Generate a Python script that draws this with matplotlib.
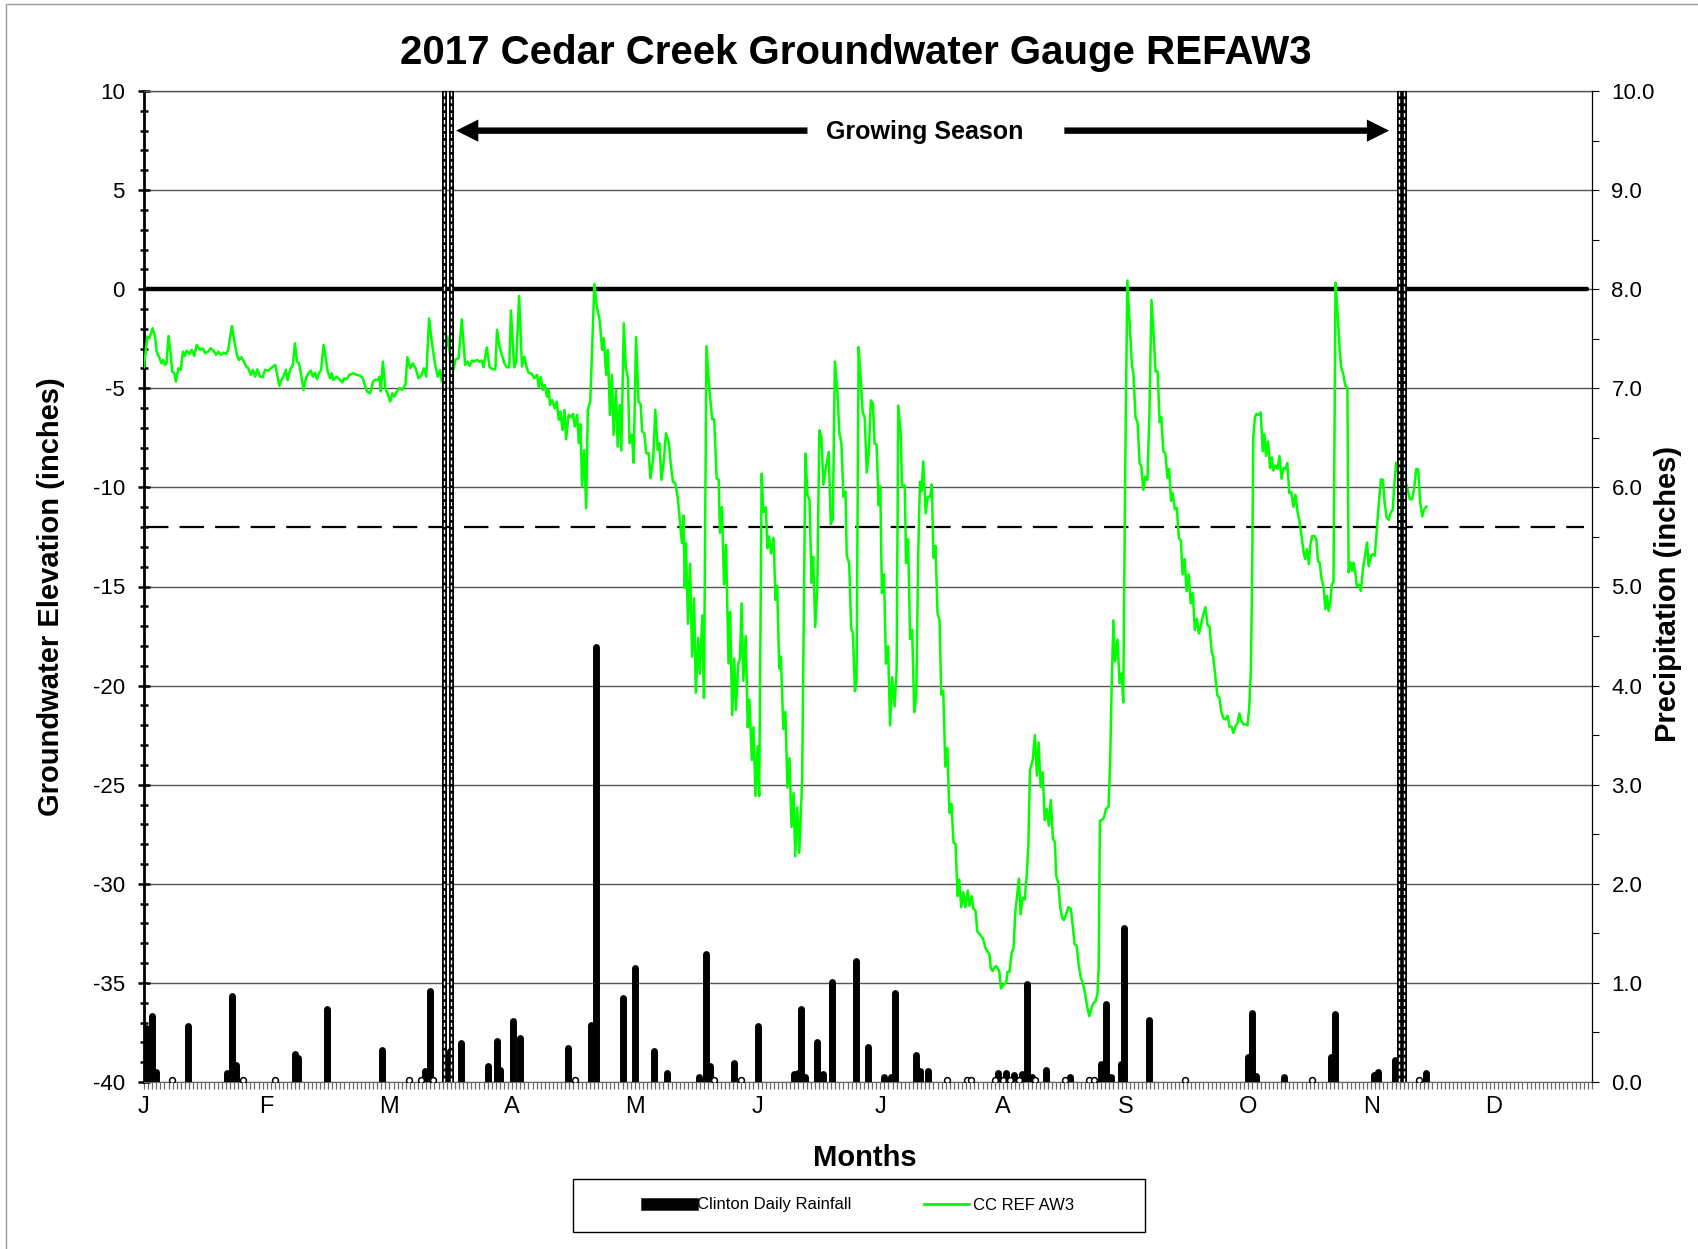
"""2017 Cedar Creek groundwater gauge REFAW3 with Clinton daily rainfall."""

import matplotlib

matplotlib.use("Agg")
import matplotlib.pyplot as plt
from matplotlib.lines import Line2D
from matplotlib.patches import Rectangle
from matplotlib.ticker import MultipleLocator, FixedLocator

plt.rcParams["font.family"] = ["Liberation Sans", "DejaVu Sans"]
plt.rcParams["axes.unicode_minus"] = False

# groundwater elevation readings (day of year from Jan 1, inches)
gw_winter = [
    (0.0, -3.94), (0.8, -2.39), (1.3, -2.48), (2.1, -1.97), (2.7, -2.39), (3.1, -3.15),
    (3.8, -3.48), (4.3, -3.74), (4.7, -3.57), (5.1, -3.82), (5.5, -3.74), (6.0, -2.36),
    (6.5, -3.23), (6.9, -4.16), (7.4, -4.24), (7.8, -4.66), (8.4, -3.99), (9.0, -4.07),
    (9.5, -3.15), (10.0, -3.37), (10.4, -3.10), (11.1, -3.26), (11.7, -3.06), (12.3, -3.37),
    (12.9, -2.81), (13.7, -3.06), (14.4, -2.98), (14.9, -3.23), (15.7, -3.15), (16.3, -2.98),
    (17.0, -3.10), (17.6, -3.31), (18.2, -3.15), (18.8, -3.31), (19.4, -3.20), (20.1, -3.26),
    (20.6, -3.06), (21.0, -2.47), (21.5, -1.85), (22.1, -2.64), (22.7, -3.31), (23.2, -3.57),
    (23.8, -3.43), (24.3, -3.60), (25.0, -3.90), (25.5, -3.99), (26.1, -4.32), (26.6, -4.07),
    (27.2, -4.41), (27.7, -4.04), (28.4, -4.41), (29.0, -4.44), (29.6, -4.07), (30.4, -4.11),
    (31.0, -3.99), (31.6, -3.90), (32.1, -3.82), (32.5, -4.24), (33.1, -4.88), (33.6, -4.58),
    (34.1, -4.41), (34.7, -4.07), (35.1, -4.58), (35.7, -4.07), (36.4, -3.82), (36.9, -2.73),
    (37.4, -3.65), (37.9, -3.74), (38.5, -4.41), (39.0, -5.08), (39.6, -4.49), (40.2, -4.24),
    (40.8, -4.11), (41.3, -4.41), (41.8, -4.21), (42.3, -4.54), (42.8, -4.24), (43.3, -4.07),
    (43.9, -2.81), (44.3, -3.31), (44.9, -4.16), (45.5, -4.49), (45.9, -4.24), (46.3, -4.58),
    (47.1, -4.41), (48.0, -4.58), (48.5, -4.71), (48.9, -4.49), (49.6, -4.54), (50.2, -4.32),
    (51.2, -4.24), (52.0, -4.32), (52.9, -4.37), (53.5, -4.49), (54.1, -4.91), (54.5, -5.16),
    (55.3, -5.25), (56.0, -4.66), (56.5, -4.58), (57.1, -4.58), (57.6, -4.41), (57.9, -5.16),
    (58.4, -3.65), (59.0, -4.99), (59.5, -5.25), (60.2, -5.67), (60.7, -5.25), (61.2, -5.42),
    (61.8, -5.16), (62.5, -4.99), (63.1, -5.08), (63.9, -4.83), (64.4, -3.43), (65.1, -3.99),
    (65.7, -3.74), (66.4, -3.99), (67.1, -4.49), (67.9, -4.32), (68.4, -3.99), (69.0, -4.41),
    (69.7, -1.47), (70.4, -2.73), (71.2, -3.82), (71.8, -4.41), (72.4, -4.07), (72.8, -4.66),
    (73.4, -3.74), (74.2, -2.39), (74.9, -3.40), (75.7, -4.07),
]
gw_spring = [
    (76.1, -3.57), (76.9, -3.48), (77.7, -1.52), (78.5, -3.82), (79.1, -3.65), (79.6, -3.87),
    (80.2, -3.60), (80.7, -3.65), (81.4, -3.57), (82.0, -3.65), (82.6, -3.60), (83.0, -3.94),
    (83.8, -2.94), (84.5, -3.94), (85.3, -4.04), (85.9, -4.04), (86.3, -2.05), (86.9, -2.89),
    (87.5, -3.31), (88.1, -3.74), (88.7, -3.94), (89.3, -3.94), (89.7, -1.08), (90.5, -3.94),
    (91.0, -3.65), (91.7, -0.34), (92.4, -3.90), (93.0, -3.40), (93.5, -3.90), (94.0, -4.21),
    (94.8, -4.27), (95.4, -4.49), (96.1, -4.32), (96.5, -4.95), (97.0, -4.44), (97.5, -5.08),
    (98.0, -4.83), (98.5, -5.42), (98.9, -5.08), (99.3, -5.84), (99.8, -5.59), (100.4, -6.01),
    (100.9, -5.67), (101.4, -6.59), (101.8, -6.17), (102.3, -7.10), (102.8, -6.09), (103.2, -7.57),
    (103.8, -6.34), (104.4, -6.46), (104.9, -6.29), (105.3, -6.93), (105.9, -6.34), (106.3, -7.77),
    (106.7, -6.80), (107.1, -9.96), (107.6, -8.11), (108.1, -11.05), (108.5, -6.09), (109.1, -5.67),
    (110.1, 0.27), (110.7, -0.88), (111.4, -1.55), (112.0, -3.06), (112.4, -2.47), (113.0, -4.32),
    (113.4, -3.06), (113.9, -6.34), (114.4, -4.32), (114.8, -7.35), (115.4, -5.08), (115.8, -7.94),
    (116.3, -5.84), (116.7, -8.14), (117.3, -1.72), (117.8, -3.99), (118.3, -4.49), (118.7, -7.77),
    (119.3, -7.35), (119.7, -8.75), (120.3, -2.42), (120.9, -5.67), (121.4, -5.79), (121.8, -7.18),
    (122.3, -7.27), (122.8, -8.28), (123.4, -8.28), (123.8, -9.54), (124.5, -8.53), (125.0, -6.09),
    (125.6, -8.11), (126.0, -7.77), (126.5, -9.62), (127.1, -8.61), (127.6, -7.27), (128.3, -7.74),
    (128.8, -8.86), (129.3, -9.71), (129.9, -9.79), (130.5, -10.55), (131.0, -11.64),
]
gw_summer = [
    (131.5, -12.81), (131.9, -11.42), (132.2, -15.07), (132.5, -12.81), (133.0, -16.89),
    (133.5, -13.85), (134.0, -18.54), (134.5, -15.59), (134.9, -20.36), (135.5, -17.59),
    (135.9, -19.41), (136.5, -16.46), (136.9, -20.63), (137.5, -2.88), (138.2, -5.00),
    (138.9, -6.56), (139.4, -6.56), (140.0, -9.55), (140.5, -9.60), (140.8, -12.29),
    (141.3, -10.99), (141.8, -14.90), (142.3, -12.90), (142.9, -18.89), (143.3, -16.28),
    (143.8, -21.49), (144.3, -18.63), (144.7, -21.23), (145.3, -18.89), (145.7, -18.63),
    (146.1, -15.85), (146.5, -19.76), (147.1, -17.50), (147.6, -22.10), (148.0, -20.70),
    (148.6, -23.75), (149.0, -22.10), (149.5, -25.57), (150.0, -23.06), (150.4, -25.57),
    (151.0, -9.31), (151.4, -11.25), (152.0, -11.00), (152.4, -13.07), (152.8, -12.47),
    (153.3, -13.33), (153.9, -12.55), (154.4, -15.68), (154.8, -14.98), (155.3, -19.15),
    (155.7, -18.54), (156.3, -22.19), (156.8, -21.32), (157.3, -25.14), (157.8, -23.66),
    (158.3, -27.13), (158.8, -25.42), (159.2, -28.61), (159.7, -26.14), (160.2, -28.44),
    (160.9, -24.79), (161.7, -8.30), (162.2, -10.38), (162.7, -10.64), (163.2, -14.81),
    (163.6, -13.50), (164.1, -17.05), (164.6, -15.07), (165.1, -7.12), (165.6, -7.43),
    (166.1, -9.86), (166.7, -8.99), (167.4, -8.21), (167.9, -11.86), (168.4, -11.60),
    (168.9, -3.65), (169.5, -5.09), (170.0, -7.26), (170.5, -7.78), (171.0, -10.47),
    (171.5, -10.21), (171.8, -13.42), (172.4, -13.85), (172.9, -17.15), (173.3, -17.33),
    (173.8, -20.28), (174.2, -19.76), (174.7, -2.92), (175.2, -4.48), (175.7, -6.22),
    (176.2, -6.48), (176.7, -9.25), (177.2, -8.21), (177.7, -5.61), (178.2, -5.78),
    (178.6, -7.78), (179.1, -7.86), (179.6, -10.90), (180.0, -9.95), (180.4, -15.33),
    (180.9, -14.38), (181.4, -18.89), (181.9, -18.02), (182.4, -22.01), (182.9, -19.58),
    (183.5, -21.06), (184.0, -19.22), (184.4, -5.87), (185.0, -7.26), (185.3, -9.95),
    (186.0, -9.91), (186.3, -13.82), (186.8, -12.61), (187.3, -17.65), (187.8, -17.18),
    (188.3, -21.34), (188.8, -20.54), (189.3, -13.17), (189.7, -9.72), (190.1, -10.19),
    (190.5, -8.69), (191.1, -11.31), (191.6, -10.47), (192.2, -10.47), (192.6, -9.85),
    (193.0, -13.54), (193.5, -12.95), (194.0, -16.34), (194.5, -16.72), (194.9, -20.45),
    (195.4, -20.26), (195.9, -24.09), (196.4, -23.15), (196.9, -26.42), (197.4, -25.95),
    (197.9, -27.91), (198.4, -28.00), (198.9, -30.62), (199.3, -29.78), (199.8, -31.18),
    (200.3, -30.43), (200.8, -31.18), (201.4, -30.34), (201.8, -31.12), (202.3, -30.62),
    (202.8, -31.27), (203.3, -31.36), (203.7, -32.39), (204.4, -32.57), (205.1, -32.76),
    (205.7, -33.23), (206.2, -33.41), (206.7, -33.54), (207.0, -34.25), (207.5, -34.40),
    (208.1, -34.16), (208.6, -34.20), (209.1, -34.44), (209.5, -35.28), (210.1, -35.09),
    (210.8, -35.00), (211.1, -34.44), (211.6, -34.44), (212.1, -33.51), (212.6, -33.23),
    (213.0, -31.46), (213.4, -30.71), (213.9, -29.74), (214.3, -31.55), (214.8, -30.71),
    (215.3, -30.80), (215.8, -29.59), (216.2, -28.10), (216.6, -24.27), (217.3, -23.71),
    (217.8, -22.50), (218.3, -24.55), (218.7, -22.87), (219.2, -25.11), (219.7, -24.37),
    (220.2, -26.79), (220.7, -26.23), (221.2, -27.07), (221.7, -25.77), (222.2, -27.72),
    (222.7, -27.91), (223.0, -29.59), (223.5, -29.96), (224.0, -31.18), (224.5, -31.74),
    (224.9, -31.83), (225.4, -31.55), (226.0, -31.18), (226.6, -31.27), (227.1, -32.20),
    (227.5, -33.04), (228.0, -33.13), (228.5, -34.07), (229.0, -34.72), (229.5, -35.00),
    (230.1, -35.56), (230.6, -36.21), (231.1, -36.68), (231.6, -36.31), (232.1, -36.03),
    (232.6, -35.93), (233.1, -35.56), (233.4, -34.25),
]
gw_fall = [
    (233.7, -26.83), (234.6, -26.71), (235.2, -26.22), (235.8, -26.10), (236.2, -23.90),
    (236.6, -19.76), (237.0, -16.71), (237.4, -18.78), (238.0, -17.68), (238.5, -19.88),
    (239.0, -19.39), (239.4, -20.85), (239.9, -8.78), (240.4, 0.44), (240.9, -1.46),
    (241.5, -3.78), (241.9, -4.27), (242.4, -6.46), (242.9, -6.71), (243.4, -8.78),
    (243.8, -8.90), (244.3, -10.12), (244.8, -9.46), (245.3, -9.63), (245.8, -6.34),
    (246.3, -0.54), (246.8, -2.20), (247.3, -4.15), (247.8, -4.15), (248.3, -6.71),
    (248.7, -6.46), (249.2, -8.17), (249.7, -8.29), (250.2, -9.51), (250.6, -9.07),
    (251.1, -10.68), (251.5, -10.29), (252.0, -11.10), (252.5, -11.03), (253.0, -12.56),
    (253.5, -12.68), (253.9, -14.39), (254.4, -13.61), (254.9, -15.24), (255.4, -14.39),
    (255.9, -15.85), (256.4, -15.32), (256.9, -17.20), (257.4, -16.63), (257.9, -17.37),
    (258.4, -16.95), (258.9, -16.46), (259.5, -16.05), (260.0, -16.95), (260.5, -17.02),
    (261.0, -18.29), (261.4, -18.54), (261.9, -19.51), (262.4, -20.49), (262.9, -20.61),
    (263.4, -21.34), (263.9, -21.66), (264.4, -21.71), (264.9, -21.51), (265.4, -22.07),
    (265.9, -22.07), (266.3, -22.39), (266.8, -22.07), (267.3, -21.90), (267.8, -21.41),
    (268.3, -21.80), (268.8, -21.95), (269.3, -21.95), (269.8, -22.00), (270.2, -21.10),
    (270.6, -19.27), (270.9, -14.63), (271.2, -7.44), (271.6, -6.46), (272.0, -6.29),
    (272.5, -6.34), (273.0, -6.22), (273.5, -8.17), (273.9, -7.32), (274.3, -8.41),
    (274.8, -7.68), (275.3, -9.02), (275.7, -8.49), (276.1, -9.15), (276.6, -8.90),
    (277.1, -9.07), (277.6, -8.41), (278.1, -9.56), (278.6, -9.02), (279.1, -9.07),
    (279.5, -8.78), (280.0, -10.29), (280.5, -10.24), (281.0, -10.98), (281.5, -10.37),
    (282.0, -11.22), (282.5, -11.71), (283.0, -12.45), (283.5, -13.29), (283.9, -13.62),
    (284.3, -13.12), (284.8, -13.87), (285.1, -12.95), (285.6, -12.45), (286.1, -12.45),
    (286.6, -12.61), (287.0, -13.71), (287.4, -13.79), (287.9, -14.63), (288.4, -15.05),
    (288.8, -16.14), (289.2, -15.47), (289.6, -16.23), (290.0, -15.81), (290.4, -14.88),
    (290.8, -14.80), (291.3, 0.33), (291.8, -1.18), (292.3, -3.03), (292.7, -3.96),
    (293.2, -4.29), (293.7, -4.88), (294.2, -4.97), (294.5, -14.29), (295.0, -13.79),
    (295.4, -14.21), (295.7, -13.79), (296.2, -14.38), (296.5, -14.97), (297.0, -14.90),
    (297.5, -15.22), (298.0, -14.13), (298.5, -13.45), (299.0, -12.78), (299.4, -13.97),
    (300.0, -13.45), (300.4, -13.37), (300.9, -13.45), (301.4, -12.11), (301.9, -10.76),
    (302.4, -9.59), (302.9, -9.62), (303.3, -10.76), (303.8, -11.52), (304.3, -11.64),
    (304.8, -11.27), (305.3, -11.13), (305.6, -10.09), (306.1, -8.75), (306.6, -9.25),
    (307.1, -9.59), (307.6, -9.67), (308.1, -9.70), (308.6, -9.84), (309.0, -10.18),
    (309.5, -10.60), (310.0, -10.60), (310.5, -10.09), (311.0, -9.08), (311.5, -9.08),
    (312.0, -10.76), (312.5, -11.47), (313.0, -11.10), (313.5, -10.97),
]

# Clinton daily rainfall (day of year, inches)
rainfall = [
    (0.5, 0.54), (1.9, 0.67), (3.0, 0.10), (10.7, 0.57), (20.2, 0.09), (21.4, 0.87),
    (22.5, 0.17), (36.9, 0.28), (37.7, 0.24), (44.7, 0.74), (58.1, 0.32), (68.7, 0.11),
    (69.8, 0.92), (74.7, 0.31), (77.4, 0.39), (84.2, 0.16), (86.2, 0.41), (87.0, 0.12),
    (90.1, 0.62), (91.9, 0.44), (103.6, 0.34), (109.4, 0.58), (110.4, 4.39), (117.1, 0.85),
    (120.1, 1.15), (124.8, 0.31), (127.8, 0.09), (135.7, 0.05), (137.3, 1.29), (138.4, 0.16),
    (144.2, 0.19), (150.0, 0.57), (158.8, 0.08), (159.8, 0.09), (160.6, 0.74), (161.6, 0.05),
    (164.6, 0.40), (165.9, 0.08), (168.3, 1.01), (174.1, 1.22), (177.0, 0.35), (181.0, 0.05),
    (182.6, 0.05), (183.7, 0.90), (188.7, 0.27), (189.7, 0.11), (191.6, 0.11), (208.9, 0.09),
    (210.8, 0.09), (212.7, 0.07), (214.6, 0.08), (215.8, 0.99), (217.0, 0.05), (220.5, 0.12),
    (226.4, 0.05), (233.9, 0.18), (235.1, 0.79), (236.4, 0.05), (238.8, 0.18), (239.6, 1.55),
    (245.8, 0.63), (270.0, 0.25), (270.8, 0.70), (271.9, 0.06), (278.6, 0.05), (290.1, 0.25),
    (291.2, 0.69), (300.6, 0.07), (301.8, 0.10), (305.9, 0.22), (313.5, 0.09),
]
# days with only a trace of rain
trace_days = [6.8, 24.3, 32.0, 64.9, 67.6, 70.7, 105.4, 139.4, 146.0, 196.4, 201.1, 202.1,
              208.1, 209.9, 211.7, 213.8, 217.9, 225.2, 231.1, 232.3, 254.5, 285.5, 311.6]

month_days = [0, 30, 60, 90, 120, 150, 180, 210, 240, 270, 300, 330]
month_labels = ["J", "F", "M", "A", "M", "J", "J", "A", "S", "O", "N", "D"]

season_start = [73.3, 75.0]
season_end = [306.9, 308.0]
ground_surface = 0
wetland_threshold = -12
x_end = 354


def main() -> None:
    gw = gw_winter + gw_spring + gw_summer + gw_fall
    gw_day = [d for d, _ in gw]
    gw_level = [v for _, v in gw]
    rain_day = [d for d, _ in rainfall]
    rain_in = [r for _, r in rainfall]

    fig = plt.figure(figsize=(16.99, 12.49), dpi=100)
    ax = fig.add_axes([144 / 1699, 1 - 1082 / 1249, 1448 / 1699, 991 / 1249])
    ax2 = ax.twinx()

    ax.set_xlim(0, x_end)
    ax.set_ylim(-40, 10)
    ax2.set_ylim(0, 10)

    ax.yaxis.grid(True, which="major", color="#555555", linewidth=1.0)
    ax.set_axisbelow(True)

    ax.hlines(ground_surface, 0, x_end - 1.3, color="black", linewidth=3.2,
              capstyle="round", zorder=3)
    ax.hlines(wetland_threshold, 0, x_end - 2, color="black", linewidth=1.6,
              linestyles=(0, (11, 5)), zorder=3)
    ax.plot(gw_day, gw_level, color="#00FF00", linewidth=1.8, zorder=4)

    bars = ax2.vlines(rain_day, 0, rain_in, color="black", linewidth=5.0, zorder=3)
    bars.set_capstyle("round")
    ax2.plot(trace_days, [0.02] * len(trace_days), linestyle="none", marker="o",
             markersize=4.2, markerfacecolor="white", markeredgecolor="black",
             markeredgewidth=1.1, zorder=4)

    for d in season_start + season_end:
        ax2.axvline(d, color="black", linewidth=3.6, zorder=6)
        ax2.axvline(d, color="white", linewidth=1.0, linestyle=(0, (3, 2)), zorder=7)

    arrow = dict(facecolor="black", edgecolor="black", width=4.6, headwidth=16,
                 headlength=16, linewidth=0, shrink=0)
    ax.annotate("", xy=(76.3, 8), xytext=(162.2, 8), arrowprops=arrow, zorder=5)
    ax.annotate("", xy=(304.4, 8), xytext=(225.0, 8), arrowprops=arrow, zorder=5)
    ax.text(190.8, 7.95, "Growing Season", ha="center", va="center", fontsize=18,
            fontweight="bold")

    # left axis
    ax.yaxis.set_major_locator(MultipleLocator(5))
    ax.yaxis.set_minor_locator(MultipleLocator(1))
    ax.tick_params(axis="y", which="major", direction="inout", length=8.5, width=1.8,
                   labelsize=16, pad=9.5)
    ax.tick_params(axis="y", which="minor", direction="inout", length=6, width=1.8)
    ax.spines["left"].set_linewidth(2.0)
    ax.spines["bottom"].set_color("#666666")
    ax.spines["top"].set_color("#555555")
    ax.spines["top"].set_linewidth(1.0)
    ax.spines["right"].set_visible(False)

    # month axis with daily hatch ticks
    ax.xaxis.set_major_locator(FixedLocator(month_days))
    ax.set_xticklabels(month_labels)
    ax.xaxis.set_minor_locator(MultipleLocator(1))
    ax.tick_params(axis="x", which="both", direction="out", length=5, width=0.9,
                   color="#6a6a6a")
    ax.tick_params(axis="x", which="major", labelsize=17, pad=5)

    # right axis
    ax2.yaxis.set_major_locator(MultipleLocator(1))
    ax2.yaxis.set_minor_locator(MultipleLocator(0.5))
    ax2.yaxis.set_major_formatter(matplotlib.ticker.FormatStrFormatter("%.1f"))
    ax2.tick_params(axis="y", which="both", direction="out", length=5, width=0.8,
                    labelsize=16, pad=9)
    for side in ("left", "top", "bottom"):
        ax2.spines[side].set_visible(False)
    ax2.spines["right"].set_linewidth(0.9)

    ax.set_ylabel("Groundwater Elevation (inches)", fontsize=21, fontweight="bold")
    ax.yaxis.set_label_coords(-0.0543, 0.49)
    ax2.set_ylabel("Precipitation (inches)", fontsize=21, fontweight="bold", rotation=90)
    ax2.yaxis.set_label_coords(1.0428, 0.492)
    ax.set_xlabel("Months", fontsize=21, fontweight="bold")
    ax.xaxis.set_label_coords(0.498, -0.0627)

    fig.text(856 / 1699, 1 - 53 / 1249, "2017 Cedar Creek Groundwater Gauge REFAW3",
             ha="center", va="center", fontsize=29, fontweight="bold")

    handles = [Line2D([0], [0], color="black", linewidth=9),
               Line2D([0], [0], color="#00FF00", linewidth=2)]
    fig.legend(handles, ["Clinton Daily Rainfall", "CC REF AW3"], loc="center",
               bbox_to_anchor=(861 / 1699, 1 - 1205 / 1249), ncol=2, frameon=False,
               fontsize=12, handlelength=2.7, handletextpad=0.25, columnspacing=4.4)
    fig.patches.append(Rectangle((573 / 1699, 1 - 1232 / 1249), 572 / 1699, 53 / 1249,
                                 transform=fig.transFigure, fill=False,
                                 edgecolor="black", linewidth=1.0))
    fig.patches.append(Rectangle((6 / 1699, -0.05), 1.2, 1.05 - 4 / 1249,
                                 transform=fig.transFigure, fill=False,
                                 edgecolor="#999999", linewidth=1.0))

    fig.savefig("out.png", dpi=100)
    plt.close(fig)


if __name__ == "__main__":
    main()
